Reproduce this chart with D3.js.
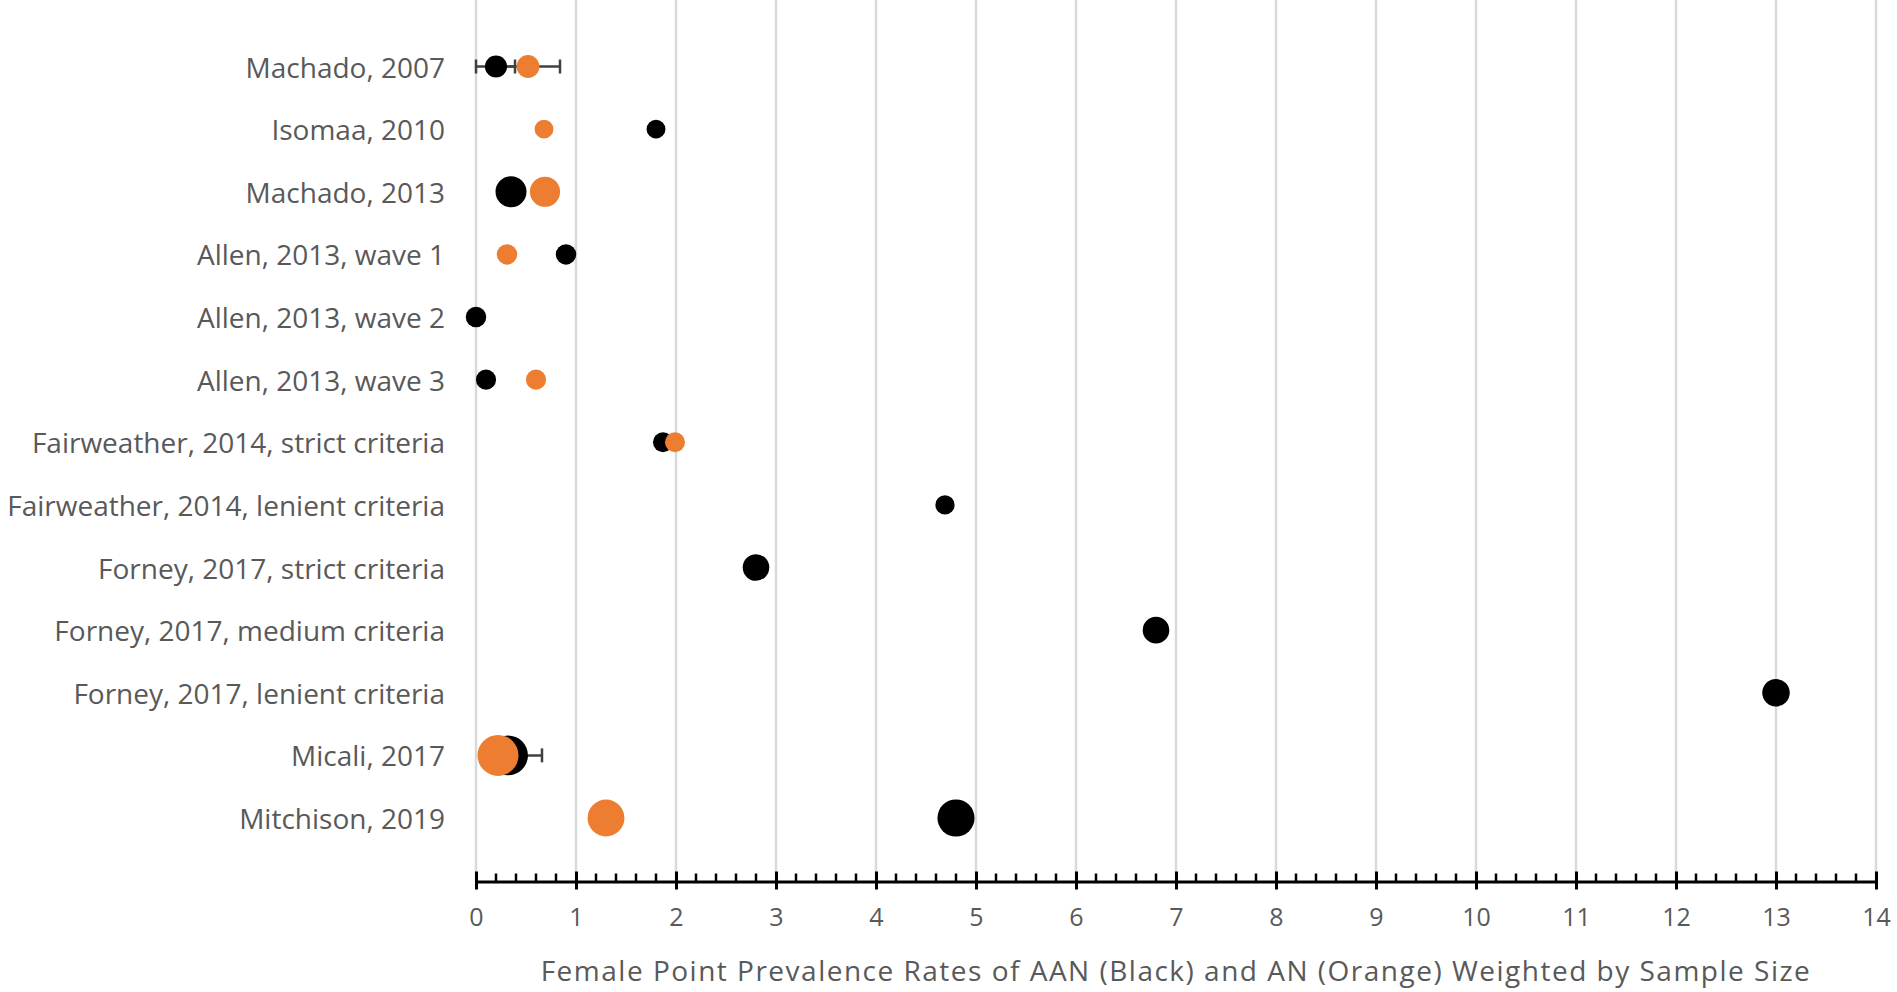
<!DOCTYPE html>
<html>
<head>
<meta charset="utf-8">
<script src="https://cdn.jsdelivr.net/npm/d3@7"></script>
<style>
  html, body { margin: 0; padding: 0; background: #fff; }
  svg { display: block; }
  text { font-family: "Open Sans", "Liberation Sans", sans-serif; fill: #595959; }
</style>
</head>
<body>
<svg id="chart" width="1897" height="992"></svg>
<script>
// ---- data ----
const categories = [
  "Machado, 2007",
  "Isomaa, 2010",
  "Machado, 2013",
  "Allen, 2013, wave 1",
  "Allen, 2013, wave 2",
  "Allen, 2013, wave 3",
  "Fairweather, 2014, strict criteria",
  "Fairweather, 2014, lenient criteria",
  "Forney, 2017, strict criteria",
  "Forney, 2017, medium criteria",
  "Forney, 2017, lenient criteria",
  "Micali, 2017",
  "Mitchison, 2019"
];
// AAN (black)
const aanValues = [0.20, 1.80, 0.35, 0.90, 0.00, 0.10, 1.87, 4.69, 2.80, 6.80, 13.00, 0.32, 4.80];
const aanWeights = [29, 21, 57, 25, 25, 24, 24, 22, 42, 42, 45, 95, 82];
const aanErrMinus = [0.20, null, null, null, null, null, null, null, null, null, null, 0.15, null];
const aanErrPlus  = [0.19, null, null, null, null, null, null, null, null, null, null, 0.34, null];
// AN (orange)
const anValues = [0.52, 0.68, 0.69, 0.31, null, 0.60, 1.99, null, null, null, null, 0.22, 1.30];
const anWeights = [31, 21, 54, 25, null, 24, 24, null, null, null, null, 100, 81];
const anErrMinus = [0.32, null, null, null, null, null, null, null, null, null, null, null, null];
const anErrPlus  = [0.32, null, null, null, null, null, null, null, null, null, null, null, null];

const xTicks = d3.range(0, 15, 1);
const xMinorTicks = d3.range(0, 14.0001, 0.2);
const xTitle = "Female Point Prevalence Rates of AAN (Black) and AN (Orange) Weighted by Sample Size";

// ---- layout ----
const svg = d3.select("#chart");
const left = 476, right = 1876, axisY = 881.5;
const x = d3.scaleLinear().domain([0, 14]).range([left, right]);
const y = d3.scalePoint().domain(categories).range([66.5, 818]).padding(0);
const r = d3.scaleSqrt().domain([0, 100]).range([0, 20.5]);

const ORANGE = "#ED7D31";

// gridlines
svg.append("g").selectAll("line").data(xTicks).join("line")
  .attr("x1", d => x(d)).attr("x2", d => x(d))
  .attr("y1", 0).attr("y2", axisY)
  .attr("stroke", "#d9d9d9").attr("stroke-width", 2.5);

// category labels
svg.append("g").selectAll("text").data(categories).join("text")
  .attr("x", 445).attr("y", d => y(d))
  .attr("text-anchor", "end").attr("dominant-baseline", "central")
  .style("font-size", "28px")
  .text(d => d);

// x axis (major)
const axis = d3.axisBottom(x).tickValues(xTicks).tickSize(0).tickPadding(27).tickFormat(d3.format("d"));
const gAxis = svg.append("g").attr("transform", `translate(0,${axisY})`).call(axis);
gAxis.select(".domain").attr("stroke", "#000").attr("stroke-width", 3);
gAxis.selectAll(".tick text").style("font-size", "25px").attr("fill", "#595959")
  .style("font-family", "'Open Sans', sans-serif");
gAxis.selectAll(".tick").append("line")
  .attr("y1", -10).attr("y2", 8).attr("stroke", "#000").attr("stroke-width", 3);
// minor ticks
svg.append("g").selectAll("line").data(xMinorTicks.filter(v => Math.abs(v - Math.round(v)) > 1e-6)).join("line")
  .attr("x1", d => x(d)).attr("x2", d => x(d))
  .attr("y1", axisY - 8).attr("y2", axisY)
  .attr("stroke", "#000").attr("stroke-width", 2.5);

// axis title
svg.append("text").attr("x", (left + right) / 2).attr("y", 970)
  .attr("text-anchor", "middle").attr("dominant-baseline", "central")
  .style("font-size", "28px").style("letter-spacing", "1.5px").text(xTitle);

// error bars
function errorBars(values, minus, plus) {
  const rows = categories.map((c, i) => ({c, v: values[i], m: minus[i], p: plus[i]}))
    .filter(d => d.v != null && d.m != null);
  const g = svg.append("g").attr("stroke", "#404040").attr("stroke-width", 2.5);
  rows.forEach(d => {
    const lo = x(d.v - d.m), hi = x(d.v + d.p), cy = y(d.c);
    g.append("line").attr("x1", lo).attr("x2", hi).attr("y1", cy).attr("y2", cy);
    g.append("line").attr("x1", lo).attr("x2", lo).attr("y1", cy - 7).attr("y2", cy + 7);
    g.append("line").attr("x1", hi).attr("x2", hi).attr("y1", cy - 7).attr("y2", cy + 7);
  });
}
errorBars(anValues, anErrMinus, anErrPlus);
errorBars(aanValues, aanErrMinus, aanErrPlus);

// bubbles
function bubbles(values, weights, color) {
  const rows = categories.map((c, i) => ({c, v: values[i], w: weights[i]})).filter(d => d.v != null);
  svg.append("g").selectAll("circle").data(rows).join("circle")
    .attr("cx", d => x(d.v)).attr("cy", d => y(d.c)).attr("r", d => r(d.w))
    .attr("fill", color);
}
bubbles(aanValues, aanWeights, "#000");
bubbles(anValues, anWeights, ORANGE);
</script>
</body>
</html>
